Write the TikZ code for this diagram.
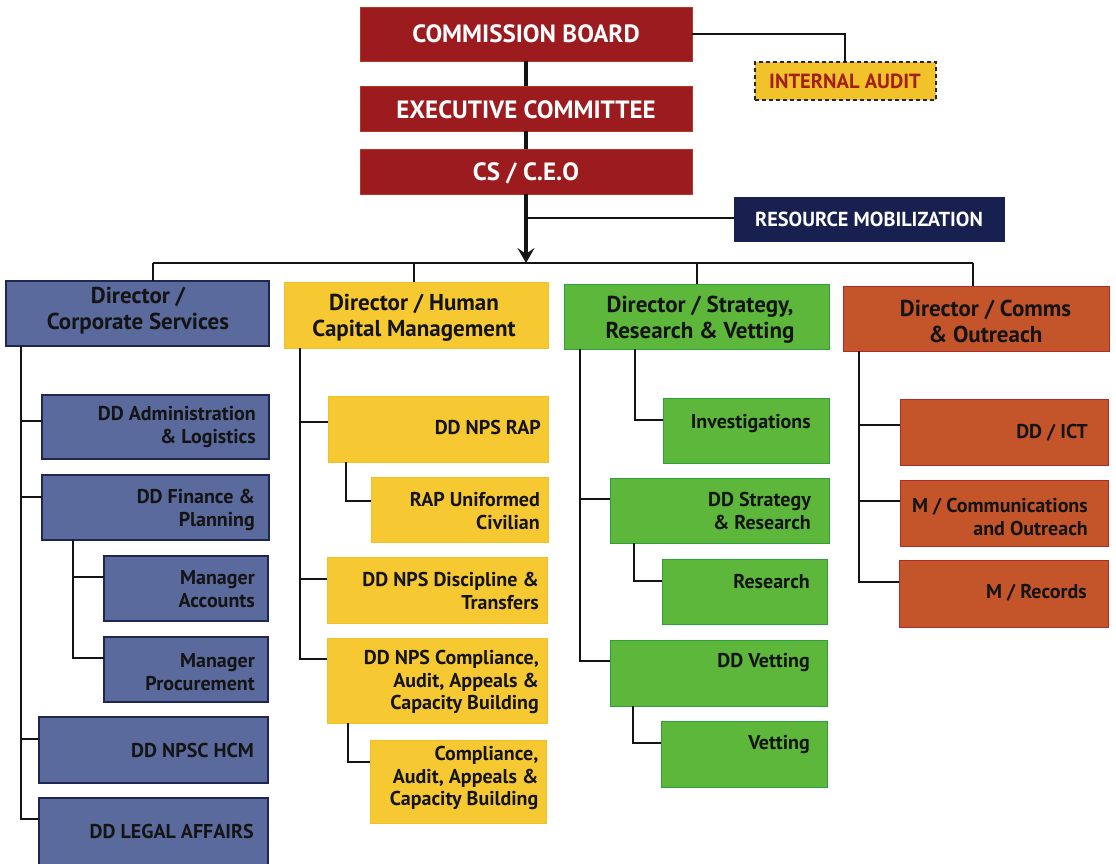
\documentclass[tikz,border=0pt]{standalone}
\usepackage{fontspec}
\setmainfont{PT Sans}
\usetikzlibrary{arrows.meta}
\definecolor{cbred}{HTML}{9B1B1F}
\definecolor{cbredb}{HTML}{B23A22}
\definecolor{iayel}{HTML}{F2C22B}
\definecolor{iatxt}{HTML}{A21F1C}
\definecolor{navy}{HTML}{17204E}
\definecolor{slate}{HTML}{5B6A9D}
\definecolor{slateb}{HTML}{1F2652}
\definecolor{yel}{HTML}{F6C831}
\definecolor{yelb}{HTML}{F0C02A}
\definecolor{grn}{HTML}{5DB73B}
\definecolor{grnb}{HTML}{2E9E3E}
\definecolor{rust}{HTML}{C4552B}
\definecolor{rustb}{HTML}{B02B29}
\definecolor{ink}{HTML}{141414}
\tikzset{
  bxbase/.style={rectangle, inner sep=0pt, outer sep=0pt},
  redbox/.style={bxbase, fill=cbred, draw=cbredb, line width=0.8pt},
  iabox/.style={bxbase, fill=iayel, draw=black!85, dashed, dash pattern=on 4pt off 3pt, line width=1.6pt},
  navybox/.style={bxbase, fill=navy, draw=navy, line width=0.8pt},
  bluebox/.style={bxbase, fill=slate, draw=slateb, line width=1.6pt},
  ybox/.style={bxbase, fill=yel, draw=yelb, line width=0.8pt},
  gbox/.style={bxbase, fill=grn, draw=grnb, line width=1pt},
  obox/.style={bxbase, fill=rust, draw=rustb, line width=1pt},
  conn/.style={draw=ink, line width=1.7pt},
  headtxt/.style={inner sep=0pt, text=white, font=\fontsize{25}{28}\selectfont\bfseries},
  iatext/.style={inner sep=0pt, text=iatxt, font=\fontsize{20.5}{22}\selectfont\bfseries},
  rmtext/.style={inner sep=0pt, text=white, font=\fontsize{20.3}{22}\selectfont\bfseries},
  dirtxt/.style={inner sep=0pt, text=ink, align=center, font=\fontsize{23}{26}\selectfont\bfseries},
  subtxt/.style={inner sep=0pt, text=ink, align=right, anchor=east, font=\fontsize{20}{22.7}\selectfont\bfseries},
}
\newcommand\bx[6]{\node[#6, minimum width={#4-#2}, minimum height={#5-#3}] (#1) at ({(#2+#4)/2},{(#3+#5)/2}) {};}
\begin{document}
\begin{tikzpicture}[x=1pt,y=-1pt]
\useasboundingbox (0,0) rectangle (1116,863);
\fill[white] (0,0) rectangle (1116,863);
% top boxes
\bx{cb}{360}{7}{692}{61}{redbox}
\bx{ec}{360}{86}{692}{131}{redbox}
\bx{ceo}{360}{149}{692}{194}{redbox}
\bx{ia}{755}{62}{936}{100}{iabox}
\bx{rm}{734}{197}{1004}{241}{navybox}
\node[headtxt] (t-cb) at (526,34) {COMMISSION BOARD};
\node[headtxt] (t-ec) at (526,110) {EXECUTIVE COMMITTEE};
\node[headtxt] (t-ceo) at (526,173) {CS / C.E.O};
\node[iatext] (t-ia) at (845,81) {INTERNAL AUDIT};
\node[rmtext] (t-rm) at (869,219) {RESOURCE MOBILIZATION};
% top connectors
\draw[conn, line width=4pt] (cb.south) -- (ec.north);
\draw[conn, line width=4pt] (ec.south) -- (ceo.north);
\coordinate (iaj) at (845,34);
\draw[conn, line width=1.5pt] (cb.east |- iaj) -- (iaj) -- (ia.north -| iaj);
\coordinate (bus) at (526,263);
\draw[conn, line width=3.2pt, -{Stealth[length=15pt,width=17pt,inset=6pt]}] (ceo.south) -- (bus);
\coordinate (rmj) at (526,218);
\draw[conn, line width=1.5pt] (rmj) -- (rm.west |- rmj);
% directors
\bx{dcs}{6}{281}{269}{346}{bluebox}
\bx{dhc}{284}{282}{548}{348}{ybox}
\bx{dsr}{564}{284}{829}{349}{gbox}
\bx{dco}{843}{286}{1109}{351}{obox}
\node[dirtxt] (t-dcs) at (138,310.5) {Director /\\Corporate Services};
\node[dirtxt] (t-dhc) at (414,318) {Director / Human\\Capital Management};
\node[dirtxt] (t-dsr) at (700,319.5) {Director / Strategy,\\Research \& Vetting};
\node[dirtxt] (t-dco) at (985.5,321) {Director / Comms\\\& Outreach};
\coordinate (busL) at (153,263);
\coordinate (busR) at (973,263);
\draw[conn, line width=1.8pt] (busL) -- (busR);
\draw[conn] (busL) -- (dcs.north -| busL);
\draw[conn] (414,263) -- (dhc.north -| 414,0);
\draw[conn] (697,263) -- (dsr.north -| 697,0);
\draw[conn] (busR) -- (dco.north -| busR);
% column 1
\bx{adm}{42}{395}{269}{459}{bluebox}
\bx{fin}{42}{475}{269}{540}{bluebox}
\bx{acc}{104}{556}{268}{621}{bluebox}
\bx{pro}{104}{637}{268}{702}{bluebox}
\bx{hcm}{39}{717}{268}{783}{bluebox}
\bx{leg}{39}{798}{268}{868}{bluebox}
\node[subtxt] (t-adm) at (256,427) {DD Administration\\\& Logistics};
\node[subtxt] (t-fin) at (255,510) {DD Finance \&\\Planning};
\node[subtxt] (t-acc) at (255,589) {Manager\\Accounts};
\node[subtxt] (t-pro) at (255,672) {Manager\\Procurement};
\node[subtxt] (t-hcm) at (254,750) {DD NPSC HCM};
\node[subtxt] (t-leg) at (254,831) {DD LEGAL AFFAIRS};
\coordinate (s1) at (21,346);
\foreach \c/\yy in {adm/421,fin/497,hcm/739,leg/819}{\draw[conn] (s1) |- (\c.west |- 0,\yy);}
\coordinate (s1b) at (73,540);
\foreach \c/\yy in {acc/577,pro/658}{\draw[conn] (s1b) |- (\c.west |- 0,\yy);}
% column 2
\bx{rap}{328}{396}{548}{462}{ybox}
\bx{ruc}{371}{477}{548}{542}{ybox}
\bx{dis}{327}{557}{547}{623}{ybox}
\bx{cmp}{327}{638}{547}{723}{ybox}
\bx{cab}{370}{740}{546}{823}{ybox}
\node[subtxt] (t-rap) at (541,427) {DD NPS RAP};
\node[subtxt] (t-ruc) at (540,511) {RAP Uniformed\\Civilian};
\node[subtxt] (t-dis) at (539,591) {DD NPS Discipline \&\\Transfers};
\node[subtxt] (t-cmp) at (539,682) {DD NPS Compliance,\\Audit, Appeals \&\\Capacity Building};
\node[subtxt] (t-cab) at (538.5,778) {Compliance,\\Audit, Appeals \&\\Capacity Building};
\coordinate (s2) at (300,348);
\foreach \c/\yy in {rap/422,dis/579,cmp/659}{\draw[conn] (s2) |- (\c.west |- 0,\yy);}
\coordinate (s2a) at (346,462);
\draw[conn] (s2a) |- (ruc.west |- 0,501);
\coordinate (s2b) at (348,723);
\draw[conn] (s2b) |- (cab.west |- 0,762);
% column 3
\bx{inv}{663}{398}{829}{463}{gbox}
\bx{dsres}{610}{478}{829}{543}{gbox}
\bx{res}{662}{559}{827}{624}{gbox}
\bx{dvet}{610}{640}{827}{706}{gbox}
\bx{vet}{661}{721}{827}{787}{gbox}
\node[subtxt] (t-inv) at (811,423) {Investigations};
\node[subtxt] (t-dsres) at (811,511) {DD Strategy\\\& Research};
\node[subtxt] (t-res) at (810,582) {Research};
\node[subtxt] (t-dvet) at (810,662) {DD Vetting};
\node[subtxt] (t-vet) at (810,744) {Vetting};
\coordinate (s3) at (580,349);
\foreach \c/\yy in {dsres/499,dvet/661}{\draw[conn] (s3) |- (\c.west |- 0,\yy);}
\coordinate (s3a) at (635,349);
\draw[conn] (s3a) |- (inv.west |- 0,420);
\coordinate (s3b) at (634,543);
\draw[conn] (s3b) |- (res.west |- 0,581);
\coordinate (s3c) at (633,706);
\draw[conn] (s3c) |- (vet.west |- 0,743);
% column 4
\bx{ict}{900}{399}{1108}{465}{obox}
\bx{mco}{900}{480}{1108}{546}{obox}
\bx{mre}{899}{560}{1108}{627}{obox}
\node[subtxt] (t-ict) at (1088,433) {DD / ICT};
\node[subtxt] (t-mco) at (1088,517) {M / Communications\\and Outreach};
\node[subtxt] (t-mre) at (1087,593) {M / Records};
\coordinate (s4) at (859,351);
\foreach \c/\yy in {ict/425,mco/501,mre/582}{\draw[conn] (s4) |- (\c.west |- 0,\yy);}
\end{tikzpicture}
\end{document}
